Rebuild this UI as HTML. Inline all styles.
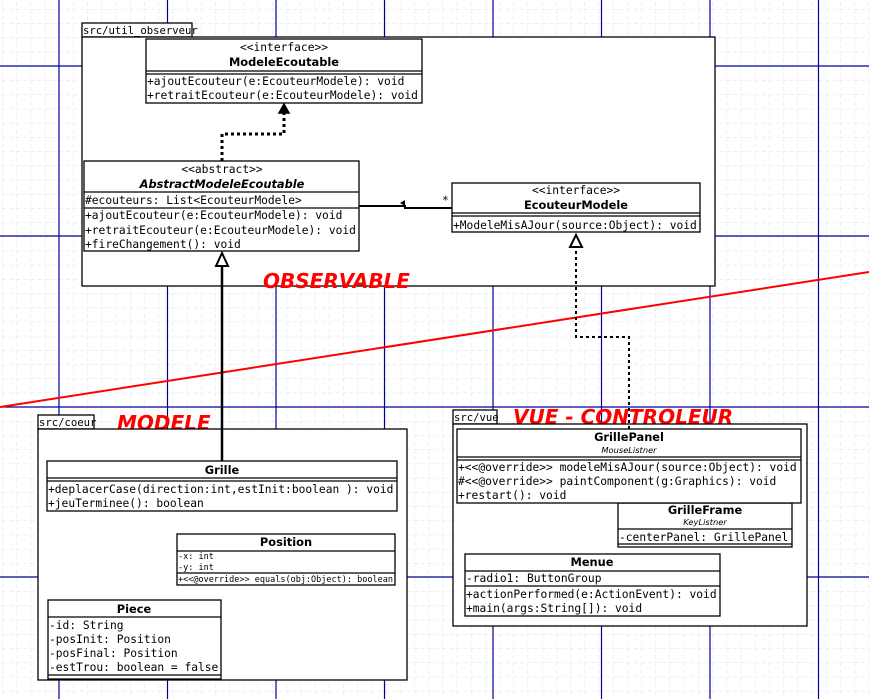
<!DOCTYPE html>
<html><head><meta charset="utf-8"><style>
html,body{margin:0;padding:0;background:#fff;}
svg{display:block;}
.m{font-family:"DejaVu Sans Mono","Liberation Mono",monospace;font-size:11.25px;fill:#000;}
.t{font-family:"DejaVu Sans Mono","Liberation Mono",monospace;font-size:10.6px;fill:#000;}
.s{font-family:"DejaVu Sans Mono","Liberation Mono",monospace;font-size:8.5px;fill:#000;}
.b{font-family:"DejaVu Sans","Liberation Sans",sans-serif;font-size:11.4px;font-weight:bold;fill:#000;}
.i{font-family:"DejaVu Sans","Liberation Sans",sans-serif;font-size:8.3px;font-style:italic;fill:#000;}
.r{font-family:"DejaVu Sans","Liberation Sans",sans-serif;font-size:20px;font-weight:bold;font-style:italic;fill:#f00;}
.box{fill:#fff;stroke:#000;stroke-width:1.3;}
.ln{stroke:#000;stroke-width:1.3;}
</style></head><body>
<svg width="869" height="699" viewBox="0 0 869 699" xmlns="http://www.w3.org/2000/svg">
<defs>
<pattern id="g" x="2.2" y="9.2" width="14.2" height="14.2" patternUnits="userSpaceOnUse">
<path d="M0 0V14.2M0 0H14.2" stroke="#d6e2e2" stroke-width="1" stroke-dasharray="4 3" fill="none"/>
</pattern>
</defs>
<rect width="869" height="699" fill="url(#g)"/>
<g stroke="#00009a" stroke-width="1.2">
<line x1="59" y1="0" x2="59" y2="699"/><line x1="167.5" y1="0" x2="167.5" y2="699"/>
<line x1="276" y1="0" x2="276" y2="699"/><line x1="384.5" y1="0" x2="384.5" y2="699"/>
<line x1="493" y1="0" x2="493" y2="699"/><line x1="601.5" y1="0" x2="601.5" y2="699"/>
<line x1="710" y1="0" x2="710" y2="699"/><line x1="818.5" y1="0" x2="818.5" y2="699"/>
<line x1="0" y1="66" x2="869" y2="66"/><line x1="0" y1="236" x2="869" y2="236"/>
<line x1="0" y1="407" x2="869" y2="407"/><line x1="0" y1="577" x2="869" y2="577"/>
</g>
<line x1="0" y1="407" x2="869" y2="272" stroke="#f00" stroke-width="2"/>

<rect x="82" y="23" width="110" height="14" class="box"/>
<text x="83" y="34" class="t">src/util_observeur</text>
<rect x="82" y="37" width="633" height="249" class="box"/>

<rect x="146" y="39" width="276" height="64" class="box"/>
<text x="284" y="51" class="m" text-anchor="middle">&lt;&lt;interface&gt;&gt;</text>
<text x="284" y="66" class="b" text-anchor="middle">ModeleEcoutable</text>
<line x1="146" y1="71" x2="422" y2="71" class="ln"/><line x1="146" y1="74" x2="422" y2="74" class="ln"/>
<text x="147" y="85" class="m">+ajoutEcouteur(e:EcouteurModele): void</text>
<text x="147" y="99" class="m">+retraitEcouteur(e:EcouteurModele): void</text>

<rect x="84" y="161" width="275" height="90" class="box"/>
<text x="222" y="173" class="m" text-anchor="middle">&lt;&lt;abstract&gt;&gt;</text>
<text x="222" y="188" class="b" text-anchor="middle" font-style="italic">AbstractModeleEcoutable</text>
<line x1="84" y1="192" x2="359" y2="192" class="ln"/>
<text x="85" y="204" class="m">#ecouteurs: List&lt;EcouteurModele&gt;</text>
<line x1="84" y1="208" x2="359" y2="208" class="ln"/>
<text x="85" y="219" class="m">+ajoutEcouteur(e:EcouteurModele): void</text>
<text x="85" y="234" class="m">+retraitEcouteur(e:EcouteurModele): void</text>
<text x="85" y="248" class="m">+fireChangement(): void</text>

<rect x="452" y="183" width="248" height="49" class="box"/>
<text x="576" y="194" class="m" text-anchor="middle">&lt;&lt;interface&gt;&gt;</text>
<text x="576" y="209" class="b" text-anchor="middle">EcouteurModele</text>
<line x1="452" y1="213" x2="700" y2="213" class="ln"/><line x1="452" y1="216" x2="700" y2="216" class="ln"/>
<text x="453" y="229" class="m">+ModeleMisAJour(source:Object): void</text>

<path d="M222 161V134H284V112" fill="none" stroke="#000" stroke-width="3" stroke-dasharray="3 3"/>
<path d="M284 104L279 113H289Z" fill="#000" stroke="#000" stroke-width="1.5"/>

<path d="M359 206H405V208H452" fill="none" stroke="#000" stroke-width="2"/>
<path d="M400 203L405 200V206Z" fill="#000"/>
<text x="442" y="204" class="m" font-size="9">*</text>

<text x="263" y="288" class="r">OBSERVABLE</text>
<text x="117" y="430" class="r">MODELE</text>
<text x="513" y="424" class="r">VUE - CONTROLEUR</text>

<rect x="38" y="415" width="56" height="14" class="box"/>
<text x="39" y="426" class="t">src/coeur</text>
<rect x="38" y="429" width="369" height="251" class="box"/>

<rect x="47" y="461" width="350" height="50" class="box"/>
<text x="222" y="474" class="b" text-anchor="middle">Grille</text>
<line x1="47" y1="478" x2="397" y2="478" class="ln"/><line x1="47" y1="481" x2="397" y2="481" class="ln"/>
<text x="48" y="493" class="m">+deplacerCase(direction:int,estInit:boolean ): void</text>
<text x="48" y="507" class="m">+jeuTerminee(): boolean</text>

<line x1="222" y1="461" x2="222" y2="266" stroke="#000" stroke-width="2.5"/>
<path d="M222 253L216 266H228Z" fill="#fff" stroke="#000" stroke-width="2"/>

<rect x="177" y="534" width="218" height="51" class="box"/>
<text x="286" y="546" class="b" text-anchor="middle">Position</text>
<line x1="177" y1="551" x2="395" y2="551" class="ln"/>
<text x="178" y="559" class="s">-x: int</text>
<text x="178" y="570" class="s">-y: int</text>
<line x1="177" y1="573" x2="395" y2="573" class="ln"/>
<text x="178" y="582" class="s">+&lt;&lt;@override&gt;&gt; equals(obj:Object): boolean</text>

<rect x="48" y="600" width="173" height="79" class="box"/>
<text x="134" y="613" class="b" text-anchor="middle">Piece</text>
<line x1="48" y1="617" x2="221" y2="617" class="ln"/>
<text x="49" y="629" class="m">-id: String</text>
<text x="49" y="643" class="m">-posInit: Position</text>
<text x="49" y="657" class="m">-posFinal: Position</text>
<text x="49" y="671" class="m">-estTrou: boolean = false</text>
<line x1="48" y1="675" x2="221" y2="675" class="ln"/>

<rect x="453" y="410" width="44" height="14" class="box"/>
<text x="454" y="421" class="t">src/vue</text>
<rect x="453" y="424" width="354" height="202" class="box"/>

<rect x="618" y="503" width="174" height="44" class="box"/>
<text x="705" y="514" class="b" text-anchor="middle">GrilleFrame</text>
<text x="705" y="525" class="i" text-anchor="middle">KeyListner</text>
<line x1="618" y1="529" x2="792" y2="529" class="ln"/>
<text x="619" y="541" class="m">-centerPanel: GrillePanel</text>
<line x1="618" y1="544" x2="792" y2="544" class="ln"/>

<rect x="457" y="429" width="344" height="74" class="box"/>
<text x="629" y="441" class="b" text-anchor="middle">GrillePanel</text>
<text x="629" y="453" class="i" text-anchor="middle">MouseListner</text>
<line x1="457" y1="457" x2="801" y2="457" class="ln"/><line x1="457" y1="460" x2="801" y2="460" class="ln"/>
<text x="458" y="471" class="m">+&lt;&lt;@override&gt;&gt; modeleMisAJour(source:Object): void</text>
<text x="458" y="485" class="m">#&lt;&lt;@override&gt;&gt; paintComponent(g:Graphics): void</text>
<text x="458" y="499" class="m">+restart(): void</text>

<rect x="465" y="554" width="255" height="62" class="box"/>
<text x="592" y="566" class="b" text-anchor="middle">Menue</text>
<line x1="465" y1="571" x2="720" y2="571" class="ln"/>
<text x="466" y="582" class="m">-radio1: ButtonGroup</text>
<line x1="465" y1="586" x2="720" y2="586" class="ln"/>
<text x="466" y="598" class="m">+actionPerformed(e:ActionEvent): void</text>
<text x="466" y="612" class="m">+main(args:String[]): void</text>

<path d="M629 429V337H576V248" fill="none" stroke="#000" stroke-width="2" stroke-dasharray="3 3"/>
<path d="M576 235L570 247H582Z" fill="#fff" stroke="#000" stroke-width="2"/>
</svg>
</body></html>
